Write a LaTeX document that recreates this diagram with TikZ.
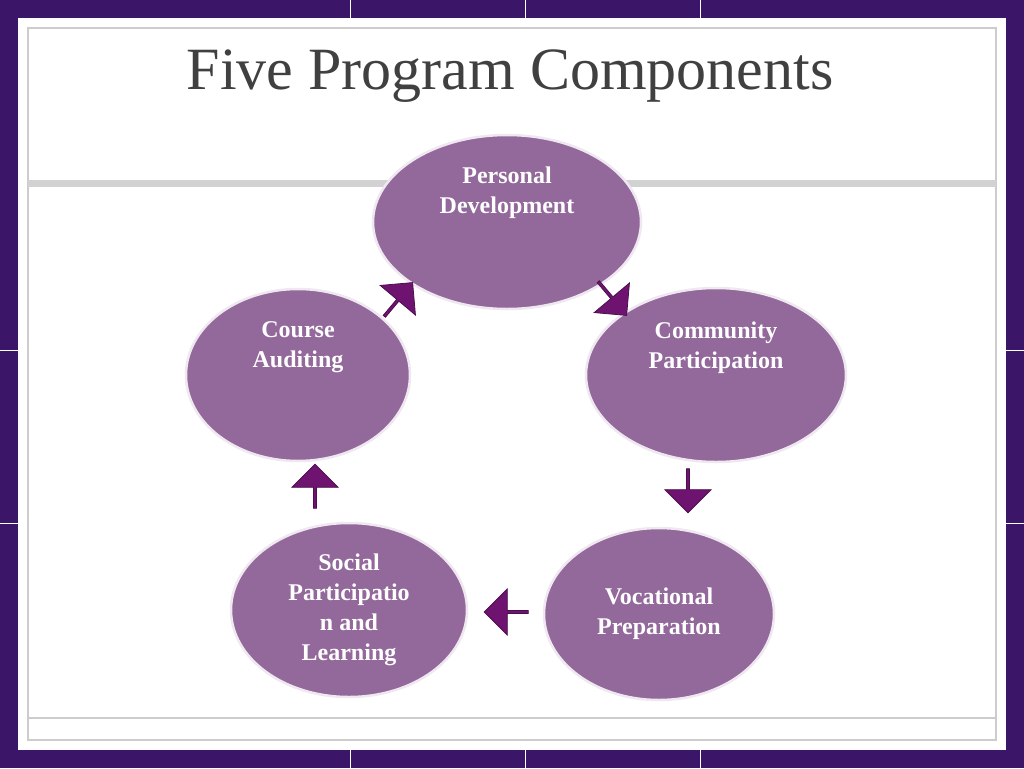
\documentclass[tikz,border=0pt]{standalone}
\usepackage{fontspec}
\setmainfont{Liberation Serif}
\usetikzlibrary{shapes.arrows,shapes.geometric}
\definecolor{bgpurple}{HTML}{3B1668}
\definecolor{bubble}{HTML}{93689B}
\definecolor{arrowc}{HTML}{6E1470}
\definecolor{titlec}{HTML}{404040}
\tikzset{
 bub/.style={ellipse, fill=bubble, draw=white!85!bubble, line width=2.5pt, text=white, font=\bfseries\fontsize{24}{30}\selectfont, align=center, inner sep=0pt},
 barrow/.style={single arrow, fill=arrowc, draw=arrowc!70!black, line width=0.8pt, minimum height=44pt, minimum width=46pt, single arrow head extend=6pt, inner sep=0pt}
}
\begin{document}
\begin{tikzpicture}[x=1pt,y=-1pt]
\useasboundingbox (0,0) rectangle (1024,768);
\fill[bgpurple] (0,0) rectangle (1024,768);
\fill[white] (18,18) rectangle (1006,750);
\draw[gray!40, line width=1.5pt] (28,28) rectangle (996,740);
\fill[gray!35] (28,180) rectangle (996,187);
\draw[gray!40, line width=1.5pt] (28,718) -- (996,718);
\foreach \x in {350,525,700} {\draw[white,line width=1pt] (\x,0) -- (\x,18); \draw[white,line width=1pt] (\x,750) -- (\x,768);}
\foreach \y in {350,523} {\draw[white,line width=1pt] (0,\y) -- (18,\y); \draw[white,line width=1pt] (1006,\y) -- (1024,\y);}
\node[text=titlec, font=\fontsize{60}{66}\selectfont] (title) at (510,76) {Five Program Components};
\node[bub, minimum width=268pt, minimum height=174pt] (pd) at (507,222) {Personal\\Development\\[34pt]};
\node[bub, minimum width=260pt, minimum height=174pt] (cp) at (716,375) {Community\\Participation\\[30pt]};
\node[bub, minimum width=230pt, minimum height=172pt] (vp) at (659,614) {Vocational\\Preparation};
\node[bub, minimum width=236pt, minimum height=174pt] (sp) at (349,610) {Social\\Participatio\\n and\\Learning};
\node[bub, minimum width=224pt, minimum height=172pt] (ca) at (298,375) {Course\\Auditing\\[30pt]};
\node[barrow, rotate=-50] (a1) at (612,298) {};
\node[barrow, rotate=-90] (a2) at (688,490) {};
\node[barrow, rotate=180] (a3) at (507,612) {};
\node[barrow, rotate=90] (a4) at (315,487) {};
\node[barrow, rotate=50] (a5) at (398,300) {};
\end{tikzpicture}
\end{document}
